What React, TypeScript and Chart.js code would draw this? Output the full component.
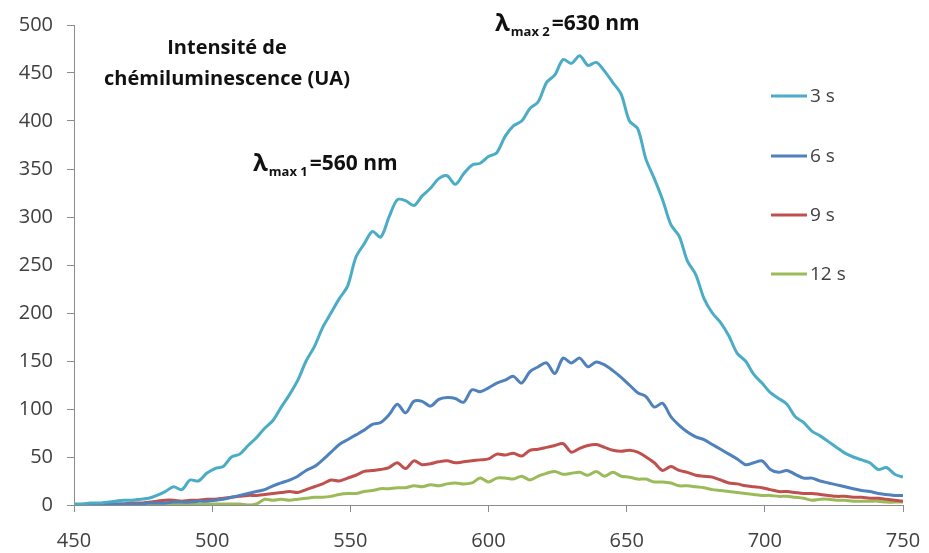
import { useEffect, useRef } from "react";
import { Chart, registerables } from "chart.js";

Chart.register(...registerables);

const wavelengths = [
  450, 453, 456, 459, 462, 465, 468, 471, 474, 477, 480, 483, 486, 489, 492, 495, 498,
  501, 504, 507, 510, 513, 516, 519, 522, 525, 528, 531, 534, 537, 540, 543, 546, 549,
  552, 555, 558, 561, 564, 567, 570, 573, 576, 579, 582, 585, 588, 591, 594, 597, 600,
  603, 606, 609, 612, 615, 618, 621, 624, 627, 630, 633, 636, 639, 642, 645, 648, 651,
  654, 657, 660, 663, 666, 669, 672, 675, 678, 681, 684, 687, 690, 693, 696, 699, 702,
  705, 708, 711, 714, 717, 720, 723, 726, 729, 732, 735, 738, 741, 744, 747, 750,
];

const series3s = [
  1, 1, 2, 2, 3, 4, 5, 5, 6, 7, 10, 14, 19, 16, 26, 25, 33,
  38, 40, 50, 53, 62, 70, 80, 88, 102, 115, 130, 150, 165, 185, 200, 215, 228,
  258, 272, 285, 279, 300, 318, 317, 312, 322, 330, 340, 343, 334, 345, 354, 356, 363,
  367, 384, 395, 400, 413, 420, 440, 448, 464, 460, 468, 458, 461, 452, 440, 428, 400,
  392, 360, 340, 318, 292, 280, 254, 240, 215, 200, 190, 176, 158, 150, 136, 127, 117,
  111, 105, 92, 86, 77, 72, 66, 60, 54, 50, 47, 44, 37, 39, 32, 29,
];

const series6s = [
  0, 0, 1, 1, 1, 1, 1, 1, 1, 2, 2, 2, 3, 3, 3, 4, 4,
  5, 6, 8, 10, 12, 14, 16, 20, 23, 26, 30, 36, 40, 47, 55, 63, 68,
  73, 78, 84, 86, 94, 105, 96, 108, 108, 103, 110, 112, 111, 107, 120, 118, 122,
  127, 130, 134, 127, 139, 144, 148, 137, 153, 148, 153, 144, 149, 146, 140, 133, 125,
  117, 113, 102, 106, 92, 83, 76, 71, 68, 63, 58, 53, 48, 42, 44, 46, 37,
  34, 36, 32, 28, 28, 25, 23, 21, 19, 17, 15, 14, 12, 11, 10, 10,
];

const series9s = [
  0, 0, 1, 1, 1, 1, 1, 2, 2, 3, 4, 5, 5, 4, 5, 5, 6,
  6, 7, 8, 9, 10, 10, 11, 12, 13, 14, 13, 16, 19, 22, 26, 25, 28,
  31, 35, 36, 37, 39, 44, 38, 46, 42, 43, 45, 46, 44, 45, 46, 47, 48,
  53, 52, 54, 51, 57, 58, 60, 62, 64, 55, 59, 62, 63, 60, 57, 56, 57,
  55, 50, 44, 36, 40, 36, 34, 31, 30, 29, 26, 23, 22, 20, 19, 18, 16,
  14, 14, 13, 12, 12, 11, 10, 9, 9, 8, 8, 7, 7, 6, 5, 4,
];

const series12s = [
  1, 0, 0, 0, 0, 0, 0, 0, 1, 1, 1, 1, 1, 1, 1, 1, 1,
  1, 1, 1, 1, 0, 1, 6, 5, 6, 5, 6, 7, 8, 8, 9, 11, 12,
  12, 14, 15, 17, 17, 18, 18, 20, 19, 21, 20, 22, 23, 22, 23, 28, 24,
  28, 28, 27, 30, 26, 30, 33, 35, 32, 33, 34, 31, 35, 30, 34, 30, 29,
  27, 27, 24, 24, 23, 20, 20, 19, 18, 16, 15, 14, 13, 12, 11, 10, 10,
  9, 9, 8, 7, 5, 6, 6, 5, 5, 4, 4, 4, 4, 3, 3, 3,
];

const seriesLabels = ["3 s", "6 s", "9 s", "12 s"];
const seriesColors = ["#4BACC6", "#4F81BD", "#C0504D", "#9BBB59"];
const seriesValues = [series3s, series6s, series9s, series12s];

const textColor = "#404040";
const axisColor = "#8c8c8c";
const fontFamily = "'Open Sans', Lato, sans-serif";

function drawLambda(ctx: CanvasRenderingContext2D, x: number, y: number, sub: string, rest: string) {
  ctx.save();
  ctx.fillStyle = "#111111";
  ctx.textBaseline = "middle";
  ctx.textAlign = "left";
  ctx.font = `bold 24px ${fontFamily}`;
  ctx.fillText("λ", x, y);
  let cx = x + ctx.measureText("λ").width + 1;
  ctx.font = `bold 13px ${fontFamily}`;
  ctx.fillText(sub, cx, y + 8);
  cx += ctx.measureText(sub).width + 2;
  ctx.font = `bold 21px ${fontFamily}`;
  ctx.fillText(rest, cx, y);
  ctx.restore();
}

const annotationPlugin = {
  id: "annotations",
  afterDraw(chart: any) {
    const ctx: CanvasRenderingContext2D = chart.ctx;
    ctx.save();
    ctx.fillStyle = "#111111";
    ctx.textAlign = "center";
    ctx.textBaseline = "middle";
    ctx.font = `bold 20px ${fontFamily}`;
    ctx.fillText("Intensité de", 227, 48);
    ctx.fillText("chémiluminescence (UA)", 227, 79);
    ctx.restore();

    drawLambda(ctx, 253, 164, "max 1", "=560 nm");
    drawLambda(ctx, 495, 24, "max 2", "=630 nm");

    // legend
    const ys = [96, 156, 215, 274];
    chart.data.datasets.forEach((ds: any, i: number) => {
      ctx.save();
      ctx.strokeStyle = ds.borderColor;
      ctx.lineWidth = 3;
      ctx.beginPath();
      ctx.moveTo(771, ys[i]);
      ctx.lineTo(807, ys[i]);
      ctx.stroke();
      ctx.fillStyle = textColor;
      ctx.font = `19px ${fontFamily}`;
      ctx.textAlign = "left";
      ctx.textBaseline = "middle";
      ctx.fillText(ds.label, 810, ys[i] + 1);
      ctx.restore();
    });
  },
};

export default function App() {
  const canvasRef = useRef<HTMLCanvasElement | null>(null);

  useEffect(() => {
    document.body.style.margin = "0";
    const canvas = canvasRef.current;
    if (!canvas) return;
    const chart = new Chart(canvas, {
      type: "line",
      data: {
        datasets: seriesValues.map((vals, i) => ({
          label: seriesLabels[i],
          data: wavelengths.map((w, j) => ({ x: w, y: vals[j] })),
          borderColor: seriesColors[i],
          backgroundColor: seriesColors[i],
          borderWidth: 3,
          pointRadius: 0,
          tension: 0.3,
          fill: false,
        })),
      },
      options: {
        responsive: false,
        animation: false,
        layout: { padding: { top: 25, right: 26, left: 0, bottom: 0 } },
        plugins: {
          legend: { display: false },
          tooltip: { enabled: false },
        },
        scales: {
          x: {
            type: "linear",
            min: 450,
            max: 750,
            ticks: {
              stepSize: 50,
              padding: 17,
              color: textColor,
              font: { family: fontFamily, size: 20 },
              maxRotation: 0,
            },
            grid: { drawOnChartArea: false, drawTicks: true, tickLength: 7, color: axisColor },
            border: { display: true, color: axisColor, width: 1 },
            afterFit: (scale: any) => {
              scale.height = 48;
              scale.paddingLeft = 0;
              scale.paddingRight = 0;
            },
          },
          y: {
            type: "linear",
            min: 0,
            max: 500,
            ticks: {
              stepSize: 50,
              padding: 14,
              color: textColor,
              font: { family: fontFamily, size: 20 },
            },
            grid: { drawOnChartArea: false, drawTicks: true, tickLength: 7, color: axisColor },
            border: { display: true, color: axisColor, width: 1 },
            afterFit: (scale: any) => {
              scale.width = 74;
              scale.paddingTop = 0;
              scale.paddingBottom = 0;
            },
          },
        },
      },
      plugins: [annotationPlugin],
    });
    return () => chart.destroy();
  }, []);

  return <canvas ref={canvasRef} width={929} height={553} style={{ display: "block" }} />;
}
